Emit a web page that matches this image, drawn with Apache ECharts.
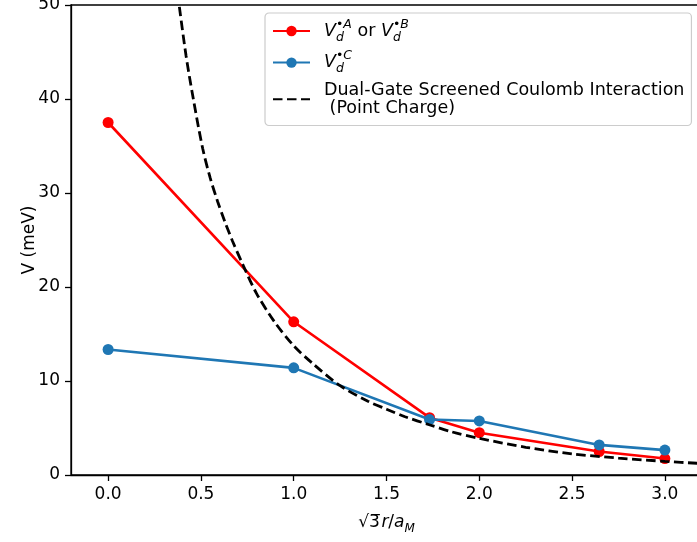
<!DOCTYPE html>
<html>
<head>
<meta charset="utf-8">
<script src="https://cdn.jsdelivr.net/npm/echarts@6/dist/echarts.min.js"></script>
<style>
html,body{margin:0;padding:0;background:#fff;}
#c{width:697px;height:542px;}
</style>
</head>
<body>
<div id="c"></div>
<script>
// Data
const xPos = [0, 1, 1.732, 2, 2.646, 3];
const vAB = [37.5, 16.3, 6.1, 4.5, 2.5, 1.75];
const vC = [13.35, 11.4, 5.9, 5.75, 3.2, 2.65];
const curveX = [0.384, 0.42, 0.46, 0.51, 0.55, 0.59, 0.63, 0.67, 0.73, 0.8, 0.9, 1.0, 1.1, 1.25, 1.4, 1.5, 1.6, 1.73, 1.85, 2.0, 2.25, 2.5, 2.75, 3.0, 3.2];
const curveY = [49.8, 44.6, 39.9, 34.7, 31.6, 29.1, 26.9, 24.9, 22.2, 19.3, 16.2, 13.75, 11.9, 9.5, 7.85, 7.0, 6.2, 5.35, 4.6, 3.9, 2.95, 2.25, 1.8, 1.45, 1.22];
const xTicks = [0, 0.5, 1, 1.5, 2, 2.5, 3];

const FONT = 'DejaVu Sans';
const FS = 17;

const chart = echarts.init(document.getElementById('c'), null, {renderer: 'canvas'});

const zip = (xs, ys) => xs.map((x, i) => [x, ys[i]]);

const legRich = {
  v: {fontFamily: FONT, fontSize: 17.5, fontStyle: 'italic', lineHeight: 26, verticalAlign: 'middle', color: '#000'},
  s: {fontFamily: FONT, fontSize: 12.5, fontStyle: 'italic', lineHeight: 12, verticalAlign: 'bottom', color: '#000', width: 0},
  p: {fontFamily: FONT, fontSize: 12.5, fontStyle: 'italic', lineHeight: 12, verticalAlign: 'top', color: '#000'},
  t: {fontFamily: FONT, fontSize: 17.5, lineHeight: 26, verticalAlign: 'middle', color: '#000'},
  m: {fontFamily: FONT, fontSize: 17.5, lineHeight: 18.3, color: '#000'}
};

const option = {
  animation: false,
  backgroundColor: '#fff',
  grid: {left: 71, top: 5, right: -5, bottom: 67, outerBoundsMode: 'none', containLabel: false,
         show: true, borderColor: '#000', borderWidth: 1.3, backgroundColor: 'transparent'},
  xAxis: {
    type: 'value', min: -0.2, max: 3.2,
    name: '{n|√3\u0305}{g| }{i|r}{n|/}{i|a}{s|M}',
    nameLocation: 'middle', nameGap: 36, nameMoveOverlap: false,
    nameTextStyle: {
      rich: {
        n: {fontFamily: FONT, fontSize: FS, color: '#000', lineHeight: 24, verticalAlign: 'middle'},
        g: {fontFamily: FONT, fontSize: 5, lineHeight: 10, verticalAlign: 'middle'},
        i: {fontFamily: FONT, fontSize: FS, fontStyle: 'italic', color: '#000', lineHeight: 24, verticalAlign: 'middle'},
        s: {fontFamily: FONT, fontSize: 12, fontStyle: 'italic', color: '#000', lineHeight: 10, verticalAlign: 'bottom'}
      }
    },
    axisLine: {show: true, onZero: false, lineStyle: {color: '#000', width: 1.3}},
    axisTick: {show: true, inside: false, length: 6, customValues: xTicks, lineStyle: {color: '#000', width: 1.3}},
    axisLabel: {customValues: xTicks, margin: 11, fontFamily: FONT, fontSize: FS, color: '#000', formatter: v => v.toFixed(1)},
    splitLine: {show: false}
  },
  yAxis: {
    type: 'value', min: 0, max: 50, interval: 10,
    name: 'V (meV)', nameLocation: 'middle', nameGap: 33, nameMoveOverlap: false,
    nameTextStyle: {fontFamily: FONT, fontSize: FS, color: '#000'},
    axisLine: {show: true, onZero: false, lineStyle: {color: '#000', width: 1.3}},
    axisTick: {show: true, inside: false, length: 6, lineStyle: {color: '#000', width: 1.3}},
    axisLabel: {margin: 11, fontFamily: FONT, fontSize: FS, color: '#000'},
    splitLine: {show: false}
  },
  legend: {
    orient: 'vertical', left: 265, top: 13,
    padding: [5, 7, 8, 7], itemGap: 5.6,
    itemWidth: 37, itemHeight: 13,
    backgroundColor: 'rgba(255,255,255,0.8)', borderColor: '#cccccc', borderWidth: 1.2, borderRadius: 4,
    textStyle: {fontFamily: FONT, fontSize: 17.5, color: '#000', padding: [0, 0, 0, 9], rich: legRich},
    data: ['AB', 'C', {name: 'DG', itemStyle: {opacity: 0}}],
    formatter: function (name) {
      if (name === 'AB') return '{v|V}{s|d}{p|•A}{t| or }{v|V}{s|d}{p|•B}';
      if (name === 'C') return '{v|V}{s|d}{p|•C}';
      return '{m|Dual-Gate Screened Coulomb Interaction}\n{m| (Point Charge)}';
    }
  },
  series: [
    {
      name: 'AB', type: 'line', data: zip(xPos, vAB),
      symbol: 'circle', symbolSize: 11,
      lineStyle: {color: '#ff0000', width: 2.6},
      itemStyle: {color: '#ff0000'},
      z: 2
    },
    {
      name: 'C', type: 'line', data: zip(xPos, vC),
      symbol: 'circle', symbolSize: 11,
      lineStyle: {color: '#1f77b4', width: 2.6},
      itemStyle: {color: '#1f77b4'},
      z: 3
    },
    {
      name: 'DG', type: 'line', data: zip(curveX, curveY),
      symbol: 'none', showSymbol: false, smooth: 0.3, clip: true,
      lineStyle: {color: '#000', width: 2.8, type: [9.5, 4.5]},
      itemStyle: {color: 'rgba(0,0,0,0)'},
      z: 4
    }
  ]
};
chart.setOption(option);
</script>
</body>
</html>
